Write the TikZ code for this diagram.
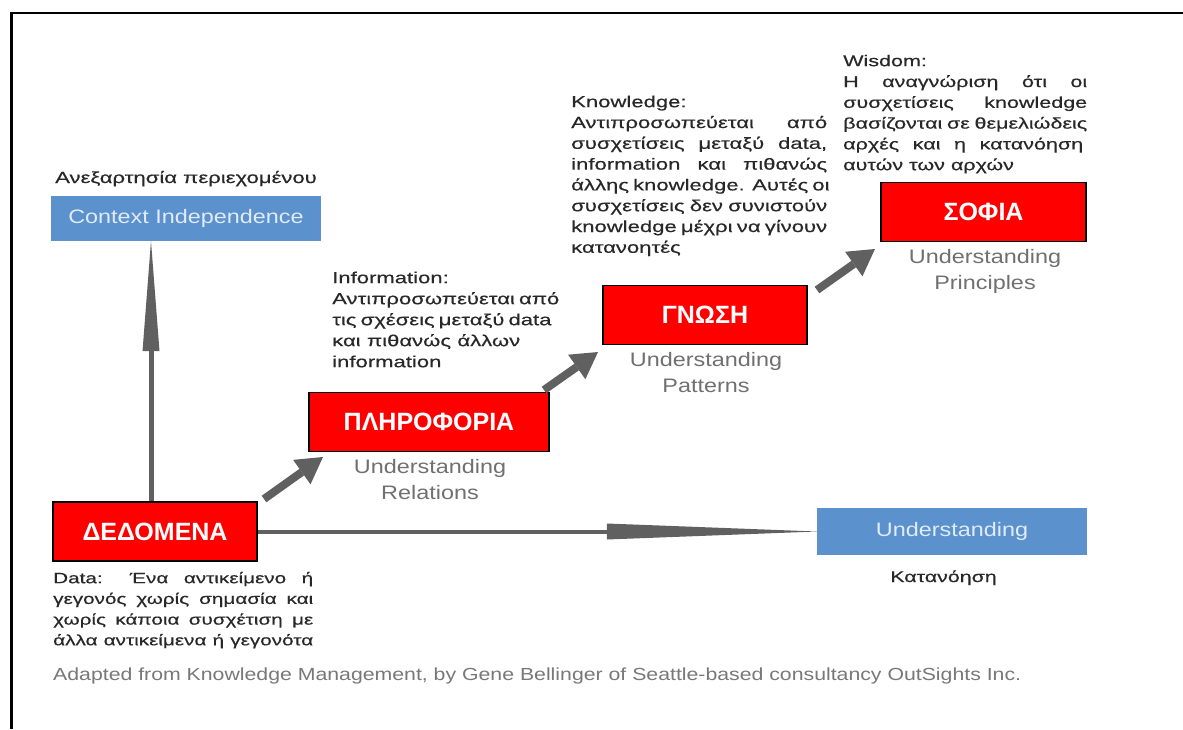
\documentclass[tikz,border=0pt]{standalone}
\usepackage{fontspec}
\setmainfont{Liberation Sans}
\newfontfamily\widesans[FakeStretch=1.2]{Liberation Sans}
\newfontfamily\notesans[FakeStretch=1.38,FakeBold=0.35]{Liberation Sans}
\newfontfamily\srcsans[FakeStretch=1.215]{Liberation Sans}
\usetikzlibrary{arrows.meta}

\definecolor{boxblue}{RGB}{91,145,205}
\definecolor{boxtext}{RGB}{225,235,247}
\definecolor{arrowgray}{RGB}{96,96,96}
\definecolor{labelgray}{RGB}{112,112,112}
\definecolor{bodytext}{RGB}{40,40,40}
\definecolor{footgray}{RGB}{120,120,120}

% one line of a justified paragraph, spread to a fixed width
\newcommand{\jline}[2]{\makebox[#1][s]{#2}}

\tikzset{
  stagebox/.style={draw=black, line width=1.8pt, fill=red, text=white,
    font=\bfseries\fontsize{25}{30}\selectfont, minimum height=59pt, inner sep=0pt},
  bluebox/.style={fill=boxblue, text=boxtext, inner sep=0pt,
    font=\widesans\fontsize{19.5}{24}\selectfont},
  desc/.style={anchor=north west, inner sep=0pt, align=left, text=bodytext,
    font=\notesans\fontsize{16}{20.8}\selectfont},
  caption/.style={anchor=base, inner sep=0pt, text=bodytext,
    font=\notesans\fontsize{16}{20}\selectfont},
  understand/.style={anchor=north, inner sep=0pt, align=center, text=labelgray,
    font=\widesans\fontsize{19.5}{26.5}\selectfont},
  bigarrow/.style={draw=arrowgray, line width=8pt,
    -{Triangle[length=26pt,width=30pt,line width=0pt]}},
  spike/.style={draw=arrowgray}
}

\begin{document}
\begin{tikzpicture}[x=1pt,y=-1pt]
\useasboundingbox (0,0) rectangle (1183,729);
\fill[white] (0,0) rectangle (1183,729);

% page frame (left and top edges)
\draw[line width=2.5pt] (11.5,729) -- (11.5,13) -- (1183,13);

% axis boxes
\node[bluebox, minimum width=270pt, minimum height=45pt] (ci) at (186,218.5) {Context Independence};
\node[bluebox, minimum width=270pt, minimum height=47pt] (un) at (952,531.5) {Understanding};
\node[caption] (cilbl) at (186,183) {Ανεξαρτησία περιεχομένου};
\node[caption, font=\notesans\fontsize{15.5}{20}\selectfont] (unlbl) at (943.5,582) {Κατανόηση};

% the four stages
\node[stagebox, minimum width=204pt] (d) at (155,531.5) {ΔΕΔΟΜΕΝΑ};
\node[stagebox, minimum width=240pt] (p) at (429,422) {ΠΛΗΡΟΦΟΡΙΑ};
\node[stagebox, minimum width=204pt] (g) at (705,315) {ΓΝΩΣΗ};
\node[stagebox, minimum width=205pt] (s) at (983.5,212) {ΣΟΦΙΑ};

% axes: a thin shaft ending in a long narrow spike
\coordinate (vtip) at ([xshift=-35pt]ci.south);
\coordinate (htip) at (un.west);
\draw[spike, line width=5pt] ([xshift=-4pt]d.north) -- ([shift={(0,108)}]vtip);
\fill[arrowgray] (vtip) -- ([shift={(-8.5,110)}]vtip) -- ([shift={(8.5,110)}]vtip) -- cycle;
\draw[spike, line width=4pt] (d.east) -- ([shift={(-208,0)}]htip);
\fill[arrowgray] (htip) -- ([shift={(-210,-8)}]htip) -- ([shift={(-210,8)}]htip) -- cycle;

% steps between the stages
\coordinate (r1a) at (264,499);  \coordinate (r1b) at (323,457);
\coordinate (r2a) at (544,390);  \coordinate (r2b) at (598,352);
\coordinate (r3a) at (817,290);  \coordinate (r3b) at (875,249);
\draw[bigarrow] (r1a) -- (r1b);
\draw[bigarrow] (r2a) -- (r2b);
\draw[bigarrow] (r3a) -- (r3b);

% labels under the stages
\node[understand] (plbl) at (430,457) {\rule{0pt}{16pt}Understanding\\Relations};
\node[understand] (glbl) at (706,350) {\rule{0pt}{16pt}Understanding\\Patterns};
\node[understand] (slbl) at (985,247) {\rule{0pt}{16pt}Understanding\\Principles};

% descriptions
\node[desc, font=\notesans\fontsize{15}{20.7}\selectfont] (dtxt) at (53,569) {\rule{0pt}{14pt}\jline{260pt}{Data: Ένα αντικείμενο ή}\\
  \jline{260pt}{γεγονός χωρίς σημασία και}\\
  \jline{260pt}{χωρίς κάποια συσχέτιση με}\\
  \jline{260pt}{άλλα αντικείμενα ή γεγονότα}};

\node[desc, font=\notesans\fontsize{16}{21}\selectfont] (ptxt) at (332,269) {\rule{0pt}{14pt}Information:\\
  \jline{218pt}{Αντιπροσωπεύεται από}\\
  \jline{218pt}{τις σχέσεις μεταξύ data}\\
  \jline{188pt}{και πιθανώς άλλων}\\
  information};

\node[desc] (gtxt) at (571,93) {\rule{0pt}{14pt}Knowledge:\\
  \jline{256pt}{Αντιπροσωπεύεται από}\\
  \jline{256pt}{συσχετίσεις μεταξύ data,}\\
  \jline{256pt}{information και πιθανώς}\\
  \jline{256pt}{άλλης knowledge. Αυτές οι}\\
  \jline{256pt}{συσχετίσεις δεν συνιστούν}\\
  \jline{256pt}{knowledge μέχρι να γίνουν}\\
  κατανοητές};

\node[desc, font=\notesans\fontsize{15.6}{20.8}\selectfont] (stxt) at (843,52) {\rule{0pt}{14pt}Wisdom:\\
  \jline{244pt}{Η αναγνώριση ότι οι}\\
  \jline{244pt}{συσχετίσεις knowledge}\\
  \jline{244pt}{βασίζονται σε θεμελιώδεις}\\
  \jline{240pt}{αρχές και η κατανόηση}\\
  αυτών των αρχών};

% source line
\node[anchor=base west, inner sep=0pt, text=footgray, font=\srcsans\fontsize{17.5}{21}\selectfont]
  (src) at (53,680) {Adapted from Knowledge Management, by Gene Bellinger of Seattle-based consultancy OutSights Inc.};
\end{tikzpicture}
\end{document}
